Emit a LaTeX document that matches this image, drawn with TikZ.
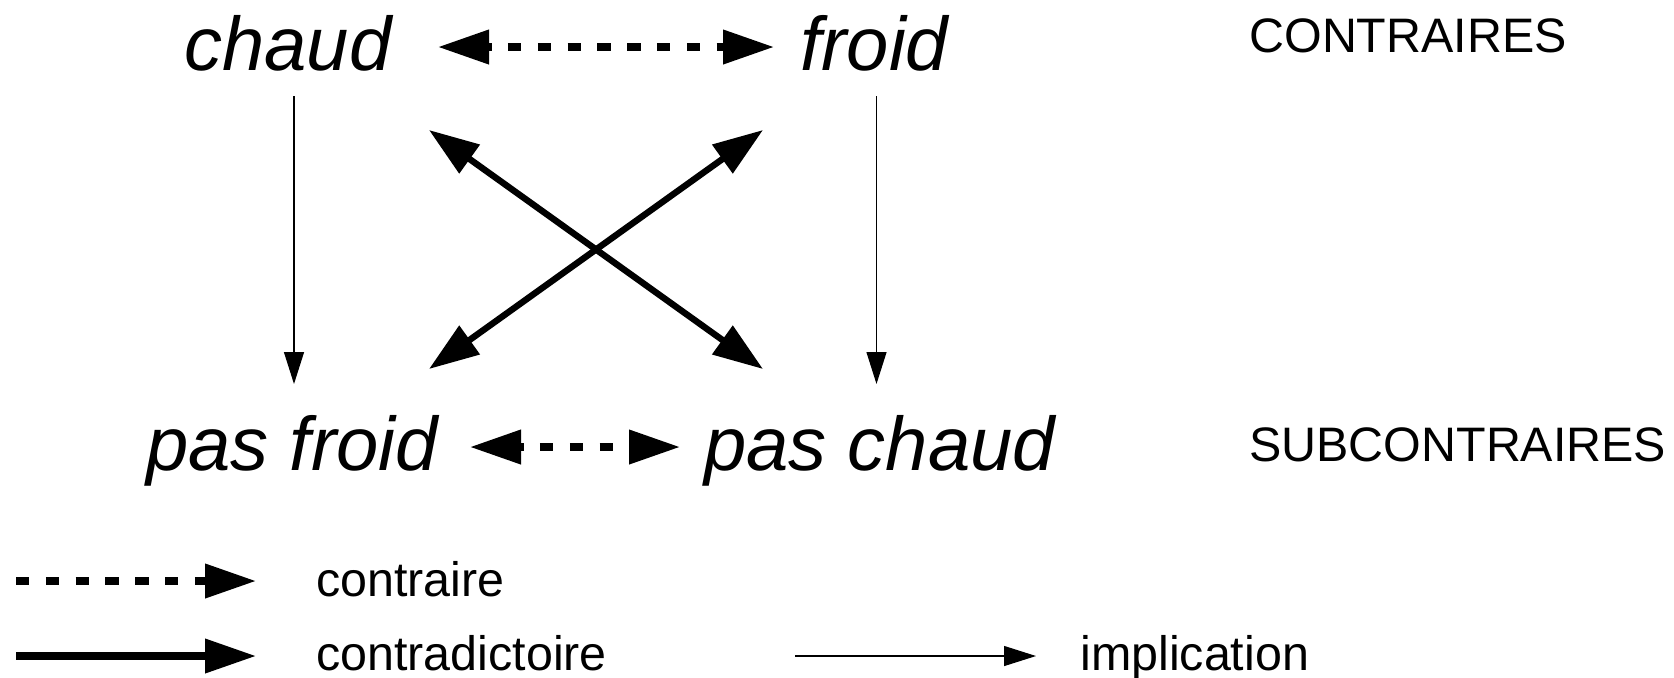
\documentclass[tikz,border=0pt]{standalone}
\usepackage{fontspec}
\setmainfont{Liberation Sans}
\usetikzlibrary{arrows.meta}
\begin{document}
\begin{tikzpicture}[x=0.5pt,y=-0.5pt,
  term/.style={inner sep=0pt,anchor=base west,font=\fontsize{38pt}{44pt}\selectfont\itshape},
  lab/.style={inner sep=0pt,anchor=base west,font=\fontsize{24.2pt}{28pt}\selectfont},
  contrarrow/.style={line width=3.65pt,dash pattern=on 6.7pt off 8.2pt},
  contradarrow/.style={line width=3.2pt},
  implarrow/.style={line width=0.6pt,-{Triangle[length=16pt,width=10pt]}},
  bighead/.tip={Triangle[length=25.5pt,width=16.5pt]},
  crosshead/.tip={Triangle[length=25pt,width=17pt]},
]
\useasboundingbox (0,0) rectangle (1674,677);

% terms
\node[term] (chaud) at (184,70) {chaud};
\node[term] (froid) at (800,70) {froid};
\node[term] (pfroid) at (146,470) {pas froid};
\node[term] (pchaud) at (704,470) {pas chaud};
\node[lab] (contraires) at (1249,52) {CONTRAIRES};
\node[lab] (subcontraires) at (1249,461) {SUBCONTRAIRES};

% connector end points
\coordinate (tl) at (438,47);
\coordinate (tr) at (774,47);
\coordinate (bl) at (470,447);
\coordinate (br) at (680,447);
\coordinate (v1a) at (294,96);
\coordinate (v1b) at (294,384);
\coordinate (v2a) at (876.5,96);
\coordinate (v2b) at (876.5,384);
\coordinate (xa) at (429,130);
\coordinate (xb) at (763,369);
\coordinate (xc) at (763,130);
\coordinate (xd) at (429,369);

\draw[contrarrow,dash phase=4.5pt,{bighead}-{bighead}] (tl) -- (tr);
\draw[contrarrow,dash phase=4.5pt,{bighead}-{bighead}] (bl) -- (br);
\draw[implarrow] (v1a) -- (v1b);
\draw[implarrow] (v2a) -- (v2b);
\draw[contradarrow,{crosshead}-{crosshead}] (xa) -- (xb);
\draw[contradarrow,{crosshead}-{crosshead}] (xc) -- (xd);

% legend
\coordinate (l1a) at (16,581);
\coordinate (l1b) at (256,581);
\coordinate (l2a) at (16,656);
\coordinate (l2b) at (256,656);
\coordinate (l3a) at (795,656);
\coordinate (l3b) at (1036,656);
\draw[contrarrow,-{bighead}] (l1a) -- (l1b);
\draw[line width=3.6pt,-{bighead}] (l2a) -- (l2b);
\draw[implarrow] (l3a) -- (l3b);
\node[lab] (lcontraire) at (316,596) {contraire};
\node[lab] (lcontradictoire) at (316,670) {contradictoire};
\node[lab] (limplication) at (1080,670) {implication};
\end{tikzpicture}
\end{document}
